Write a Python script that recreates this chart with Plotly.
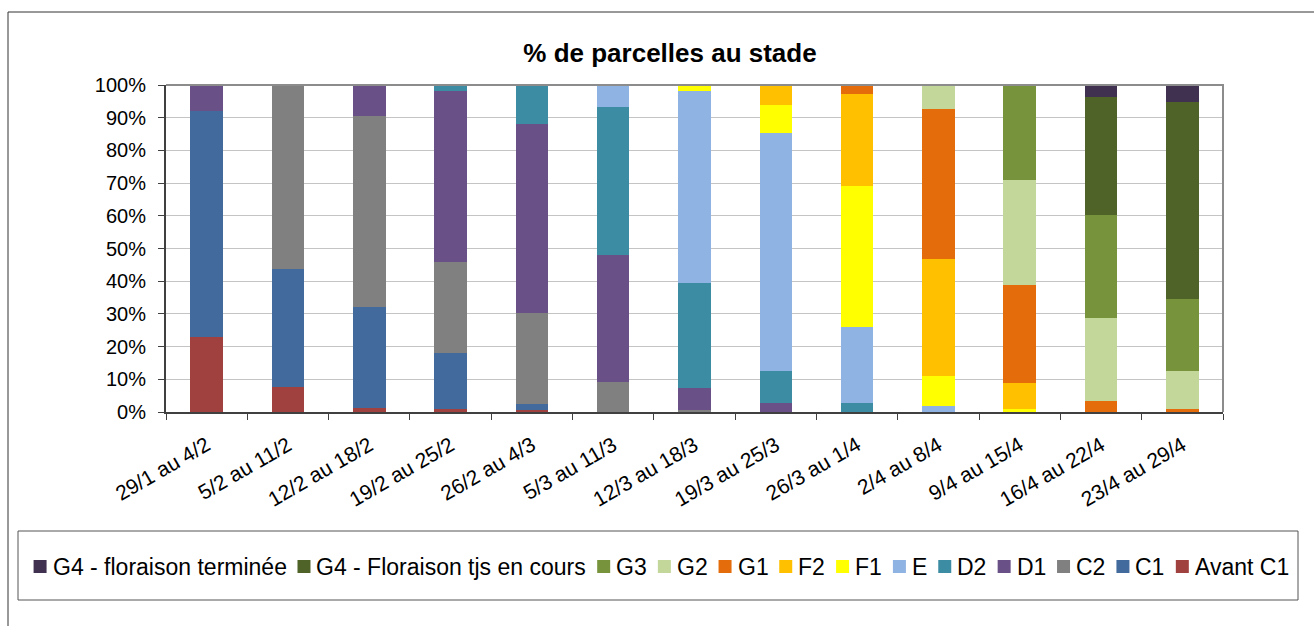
import plotly.graph_objects as go

# ---------------- data ----------------
categories = ["29/1 au 4/2", "5/2 au 11/2", "12/2 au 18/2", "19/2 au 25/2",
              "26/2 au 4/3", "5/3 au 11/3", "12/3 au 18/3", "19/3 au 25/3",
              "26/3 au 1/4", "2/4 au 8/4", "9/4 au 15/4", "16/4 au 22/4",
              "23/4 au 29/4"]

avant_c1 = [23.0, 7.6, 1.1, 0.9, 0.7, 0, 0, 0, 0, 0, 0, 0, 0]
c1       = [69.2, 36.2, 31.1, 17.0, 1.9, 0, 0, 0, 0, 0, 0, 0, 0]
c2       = [0, 56.2, 58.3, 28.0, 27.8, 9.2, 0.6, 0, 0, 0, 0, 0, 0]
d1       = [7.8, 0, 9.5, 52.2, 57.8, 38.9, 6.8, 2.9, 0, 0, 0, 0, 0]
d2       = [0, 0, 0, 1.9, 11.8, 45.3, 32.0, 9.5, 2.8, 0, 0, 0, 0]
e        = [0, 0, 0, 0, 0, 6.6, 58.9, 72.8, 23.1, 1.8, 0, 0, 0]
f1       = [0, 0, 0, 0, 0, 0, 1.7, 8.7, 43.1, 9.2, 1.0, 0, 0]
f2       = [0, 0, 0, 0, 0, 0, 0, 6.1, 28.1, 35.9, 7.8, 0, 0]
g1       = [0, 0, 0, 0, 0, 0, 0, 0, 2.9, 45.8, 30.0, 3.5, 1.0]
g2       = [0, 0, 0, 0, 0, 0, 0, 0, 0, 7.3, 32.3, 25.3, 11.6]
g3       = [0, 0, 0, 0, 0, 0, 0, 0, 0, 0, 28.9, 31.5, 22.1]
g4_cours = [0, 0, 0, 0, 0, 0, 0, 0, 0, 0, 0, 36.1, 60.2]
g4_term  = [0, 0, 0, 0, 0, 0, 0, 0, 0, 0, 0, 3.6, 5.1]

series_names = ["Avant C1", "C1", "C2", "D1", "D2", "E", "F1", "F2", "G1", "G2",
                "G3", "G4 - Floraison tjs en cours", "G4 - floraison terminée"]
series_values = [avant_c1, c1, c2, d1, d2, e, f1, f2, g1, g2, g3, g4_cours, g4_term]
series_colors = ["#A0413F", "#426A9C", "#808080", "#695087", "#3C8CA4", "#8FB3E2",
                 "#FFFF00", "#FFC000", "#E46C0A", "#C4D79B", "#77933C", "#4F6228",
                 "#403151"]

y_ticks = [0, 10, 20, 30, 40, 50, 60, 70, 80, 90, 100]

# ---------------- layout geometry (pixels) ----------------
W, H = 1314, 626
L, R, T, B = 166, 1223, 85, 412
PW, PH = R - L, B - T
FONT = "Liberation Sans, Arial, sans-serif"
LEG_FONT = 23


def px_x(p):
    return (p - L) / PW


def px_y(p):
    return (B - p) / PH


# Arial / Liberation Sans advance widths (1/1000 em) for legend layout
ARIAL_W = {"G": 778, "4": 556, " ": 278, "-": 333, "f": 278, "l": 222, "o": 556,
           "r": 333, "a": 556, "i": 222, "s": 500, "n": 556, "t": 278, "e": 556,
           "m": 833, "é": 556, "F": 611, "j": 222, "c": 500, "u": 556, "3": 556,
           "2": 556, "1": 556, "E": 667, "D": 722, "C": 722, "A": 667, "v": 500}


def text_width(s, size):
    return sum(ARIAL_W.get(ch, 556) for ch in s) * size / 1000.0


fig = go.Figure()
for name, vals, col in zip(series_names, series_values, series_colors):
    fig.add_trace(go.Bar(x=categories, y=vals, name=name, showlegend=False,
                         marker=dict(color=col, line=dict(width=0))))

shapes = [
    # plot area border (top and right)
    dict(type="path", xref="paper", yref="paper", layer="above",
         path="M 0,1 L 1,1 L 1,0", line=dict(color="#8C8C8C", width=2)),
    # chart outer border (left and top)
    dict(type="path", xref="paper", yref="paper", layer="above",
         path=f"M {px_x(8)},{px_y(640)} L {px_x(8)},{px_y(12)} L {px_x(1330)},{px_y(12)}",
         line=dict(color="#333333", width=1)),
    # legend box
    dict(type="rect", xref="paper", yref="paper", layer="above",
         x0=px_x(18), x1=px_x(1298), y0=px_y(600), y1=px_y(531),
         line=dict(color="#555555", width=1)),
]
annotations = []

# legend entries (reversed order, like the stacked-bar legend)
SQ, GAP_IN, GAP_OUT = 13, 5, 12
entries = list(zip(series_names, series_colors))[::-1]
total = sum(SQ + GAP_IN + text_width(n, LEG_FONT) for n, _ in entries) + GAP_OUT * (len(entries) - 1)
x = 661 - total / 2
leg_cy = 566
for name, col in entries:
    shapes.append(dict(type="rect", xref="paper", yref="paper", layer="above",
                       x0=px_x(x), x1=px_x(x + SQ), y0=px_y(leg_cy + 7), y1=px_y(leg_cy - 6),
                       fillcolor=col, line=dict(width=0)))
    annotations.append(dict(text=name, xref="paper", yref="paper", showarrow=False,
                            x=px_x(x + SQ + GAP_IN), y=px_y(leg_cy + 1), xanchor="left",
                            yanchor="middle", align="left", borderpad=0,
                            font=dict(family=FONT, size=LEG_FONT, color="#000000")))
    x += SQ + GAP_IN + text_width(name, LEG_FONT) + GAP_OUT

fig.update_layout(
    width=W, height=H, autosize=False,
    margin=dict(l=L, r=W - R, t=T, b=H - B, pad=0, autoexpand=False),
    barmode="stack", barnorm="percent", bargap=0.6,
    paper_bgcolor="white", plot_bgcolor="white",
    font=dict(family=FONT, size=20, color="#000000"),
    title=dict(text="<b>% de parcelles au stade</b>", xref="container", yref="container",
               x=670 / W, y=1 - 53 / H, xanchor="center", yanchor="middle",
               font=dict(family=FONT, size=26, color="#000000")),
    showlegend=False,
    xaxis=dict(type="category", tickangle=-30, ticks="outside", tickson="boundaries",
               ticklen=6, tickcolor="#404040", showline=True, linecolor="#404040",
               linewidth=2, showgrid=False, tickfont=dict(size=21), ticklabelstandoff=11,
               automargin=False),
    yaxis=dict(range=[0, 100], tickvals=y_ticks, ticktext=[f"{v}%" for v in y_ticks],
               ticks="outside", ticklen=6, tickcolor="#404040", showline=True,
               linecolor="#404040", linewidth=2, showgrid=True, gridcolor="#C4C4C4",
               gridwidth=1, zeroline=False, tickfont=dict(size=20), ticklabelstandoff=8,
               automargin=False),
    shapes=shapes,
    annotations=annotations,
)

fig.write_html("out.html", config={"displayModeBar": False},
               post_script="document.body.style.margin='0';document.body.style.overflow='hidden';")
